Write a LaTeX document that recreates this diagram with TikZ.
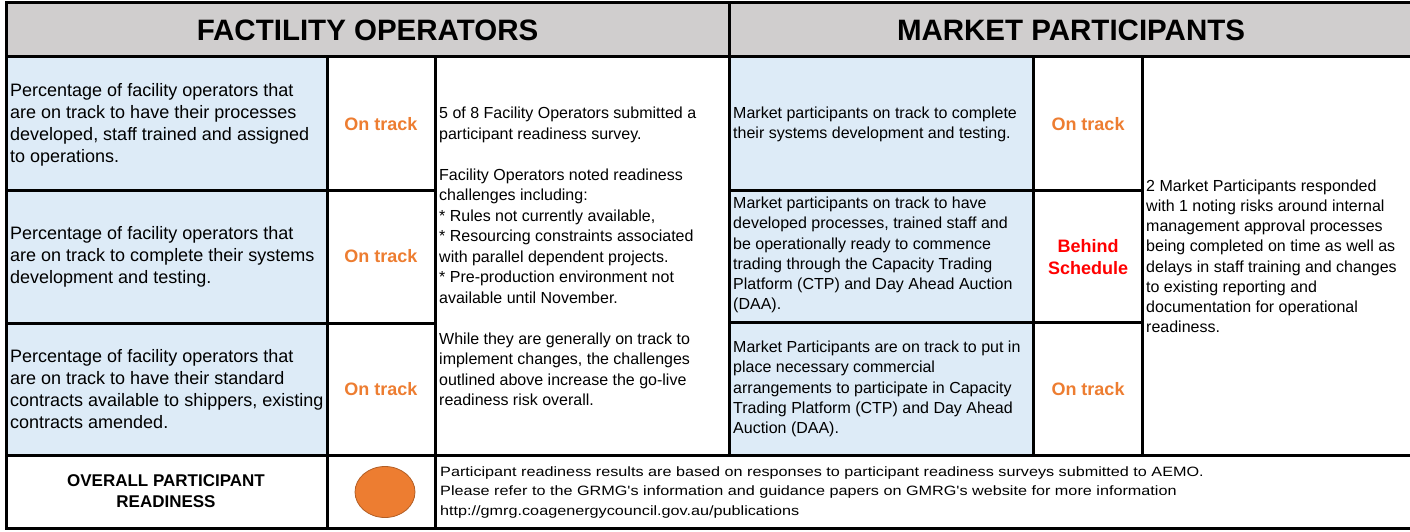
\documentclass[tikz,border=0pt]{standalone}
\usepackage{fontspec}
\setmainfont{Liberation Sans}
\newfontfamily\widef[FakeStretch=1.2]{Liberation Sans}
\definecolor{hdrgray}{RGB}{208,206,206}
\definecolor{cellblue}{RGB}{221,235,247}
\definecolor{ontrack}{RGB}{237,125,49}
\definecolor{behind}{RGB}{255,0,0}
\definecolor{dotorange}{RGB}{237,125,49}
\tikzset{
  gridline/.style={line width=3pt, black},
  hdr/.style={inner sep=0pt, font=\fontsize{29.5}{34}\selectfont\bfseries},
  lefttxt/.style={inner sep=0pt, anchor=west, align=left, font=\fontsize{18}{22}\selectfont},
  bodytxt/.style={inner sep=0pt, anchor=west, align=left, font=\fontsize{16}{20.5}\selectfont},
  mptxt/.style={inner sep=0pt, anchor=west, align=left, font=\fontsize{16}{20.2}\selectfont},
  statok/.style={inner sep=0pt, align=center, text=ontrack, font=\fontsize{18}{22.7}\selectfont\bfseries},
  statbad/.style={inner sep=0pt, align=center, text=behind, font=\fontsize{18}{22.7}\selectfont\bfseries},
  overall/.style={inner sep=0pt, align=center, font=\fontsize{17}{21.5}\selectfont\bfseries},
  foot/.style={inner sep=0pt, anchor=west, align=left, font=\fontsize{13.5}{19.5}\selectfont\widef},
  dot/.style={ellipse, draw=dotorange!75!black, line width=0.8pt, fill=dotorange, minimum width=60pt, minimum height=51pt, inner sep=0pt}
}
\usetikzlibrary{shapes.geometric}
\begin{document}
\begin{tikzpicture}[x=1pt,y=-1pt]
\useasboundingbox (0,0) rectangle (1410,532);
\clip (0,0) rectangle (1410,532);
% fills
\fill[hdrgray] (6,3) rectangle (1416,57);
\fill[cellblue] (6,57) rectangle (327,455);
\fill[cellblue] (729,57) rectangle (1033,455);
% grid
\draw[gridline] (6,3) rectangle (1418,528);
\draw[gridline] (6,57) -- (1418,57);
\draw[gridline] (729,3) -- (729,455);
\draw[gridline] (327,57) -- (327,528);
\draw[gridline] (435,57) -- (435,528);
\draw[gridline] (6,190) -- (435,190);
\draw[gridline] (6,323) -- (435,323);
\draw[gridline] (6,455) -- (1418,455);
\draw[gridline] (1033,57) -- (1033,455);
\draw[gridline] (1142,57) -- (1142,455);
\draw[gridline] (729,190) -- (1142,190);
\draw[gridline] (729,322) -- (1142,322);
% headers
\node[hdr] (hfo) at (367.5,30.5) {FACTILITY OPERATORS};
\node[hdr] (hmp) at (1071,30.5) {MARKET PARTICIPANTS};
% facility operators
\node[lefttxt] (fo1) at (10,124.5) {Percentage of facility operators that\\are on track to have their processes\\developed, staff trained and assigned\\to operations.};
\node[lefttxt] (fo2) at (10,257) {Percentage of facility operators that\\are on track to complete their systems\\development and testing.};
\node[lefttxt] (fo3) at (10,389) {Percentage of facility operators that\\are on track to have their standard\\contracts available to shippers, existing\\contracts amended.};
\node[statok] (fs1) at (381,124) {On track};
\node[statok] (fs2) at (381,256.5) {On track};
\node[statok] (fs3) at (381,389) {On track};
\node[bodytxt] (fonote) at (439,256.5) {5 of 8 Facility Operators submitted a\\participant readiness survey.\\[20.5pt]Facility Operators noted readiness\\challenges including:\\* Rules not currently available,\\* Resourcing constraints associated\\with parallel dependent projects.\\* Pre-production environment not\\available until November.\\[20.5pt]While they are generally on track to\\implement changes, the challenges\\outlined above increase the go-live\\readiness risk overall.};
% market participants
\node[mptxt] (mp1) at (733,124.5) {Market participants on track to complete\\their systems development and testing.};
\node[mptxt] (mp2) at (733,255) {Market participants on track to have\\developed processes, trained staff and\\be operationally ready to commence\\trading through the Capacity Trading\\Platform (CTP) and Day Ahead Auction\\(DAA).};
\node[mptxt] (mp3) at (733,389) {Market Participants are on track to put in\\place necessary commercial\\arrangements to participate in Capacity\\Trading Platform (CTP) and Day Ahead\\Auction (DAA).};
\node[statok] (ms1) at (1088,124) {On track};
\node[statbad] (ms2) at (1088,257) {Behind\\Schedule};
\node[statok] (ms3) at (1088,389) {On track};
\node[mptxt] (mpnote) at (1146,256.3) {2 Market Participants responded\\with 1 noting risks around internal\\management approval processes\\being completed on time as well as\\delays in staff training and changes\\to existing reporting and\\documentation for operational\\readiness.};
% overall row
\node[overall] (ov) at (166,491) {OVERALL PARTICIPANT\\READINESS};
\node[dot] (ovdot) at (385,492) {};
\node[foot] (ovnote) at (440,492.5) {Participant readiness results are based on responses to participant readiness surveys submitted to AEMO.\\Please refer to the GRMG's information and guidance papers on GMRG's website for more information\\http://gmrg.coagenergycouncil.gov.au/publications};
\end{tikzpicture}
\end{document}
